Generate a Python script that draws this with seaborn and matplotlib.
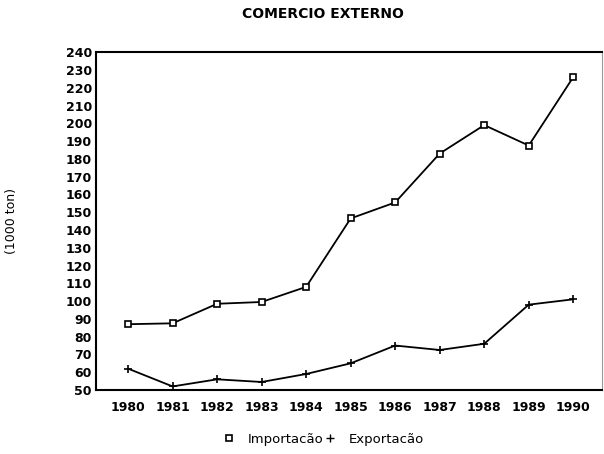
import matplotlib
matplotlib.use("Agg")
import matplotlib.pyplot as plt
import seaborn as sns
import pandas as pd
from matplotlib.lines import Line2D

years = [1980, 1981, 1982, 1983, 1984, 1985, 1986, 1987, 1988, 1989, 1990]
importacao = [87, 87.5, 98.5, 99.5, 108, 146.5, 155.5, 183, 199, 187.5, 226]
exportacao = [62, 52, 56, 54.5, 59, 65, 75, 72.5, 76, 98, 101]
yticks = list(range(50, 241, 10))

sns.set_style("white")
plt.rcParams['font.family'] = ['DejaVu Sans']
plt.rcParams['text.color'] = 'black'
plt.rcParams['axes.labelcolor'] = 'black'
plt.rcParams['xtick.color'] = 'black'
plt.rcParams['ytick.color'] = 'black'

df = pd.DataFrame({"ano": years, "Importacão": importacao, "Exportacão": exportacao})

fig = plt.figure(figsize=(6.04, 4.54), dpi=100)
ax = fig.add_axes([0.159, 0.141, 0.838, 0.744])

sns.lineplot(data=df, x="ano", y="Importacão", ax=ax, color="black", lw=1.3,
             marker="s", markersize=5, markerfacecolor="white", markeredgecolor="black",
             markeredgewidth=1.2)
sns.lineplot(data=df, x="ano", y="Exportacão", ax=ax, color="black", lw=1.3,
             marker="+", markersize=6, markeredgewidth=1.2, markeredgecolor="black")

ax.set_xlim(1979.28, 1990.65)
ax.set_ylim(50, 240)
ax.set_yticks(yticks)
ax.set_xticks(years)
ax.set_xticklabels([str(y) for y in years], fontsize=9, fontweight='bold')
ax.set_yticklabels([str(v) for v in yticks], fontsize=9, fontweight='bold')
ax.tick_params(axis='both', direction='in', length=5, width=1.2, color='black', labelcolor='black')
ax.tick_params(axis='x', pad=8)
ax.tick_params(axis='y', pad=3)

for s in ['left', 'bottom', 'top']:
    ax.spines[s].set_color('black')
    ax.spines[s].set_linewidth(1.5)
ax.spines['right'].set_color('#999999')
ax.spines['right'].set_linewidth(0.8)

ax.set_xlabel("")
ax.set_ylabel("(1000 ton)", fontsize=9, fontweight='normal', color='black')
ax.yaxis.set_label_coords(-0.154, 0.5)
fig.suptitle("COMERCIO EXTERNO", x=0.535, y=0.985, fontsize=10, fontweight='bold', color='black')

handles = [Line2D([], [], ls='none', marker='s', markersize=5, markerfacecolor='white',
                  markeredgecolor='black', markeredgewidth=1.2),
           Line2D([], [], ls='none', marker='+', markersize=6, markeredgecolor='black',
                  markeredgewidth=1)]
leg = fig.legend(handles, ["Importacão", "Exportacão"], loc='center', bbox_to_anchor=(0.535, 0.033),
                 ncol=2, frameon=False, handlelength=1.0, handletextpad=0.9,
                 columnspacing=0.0, prop={'weight': 'normal', 'size': 9.5})
for t in leg.get_texts():
    t.set_color('black')

fig.savefig("out.png", dpi=100)
